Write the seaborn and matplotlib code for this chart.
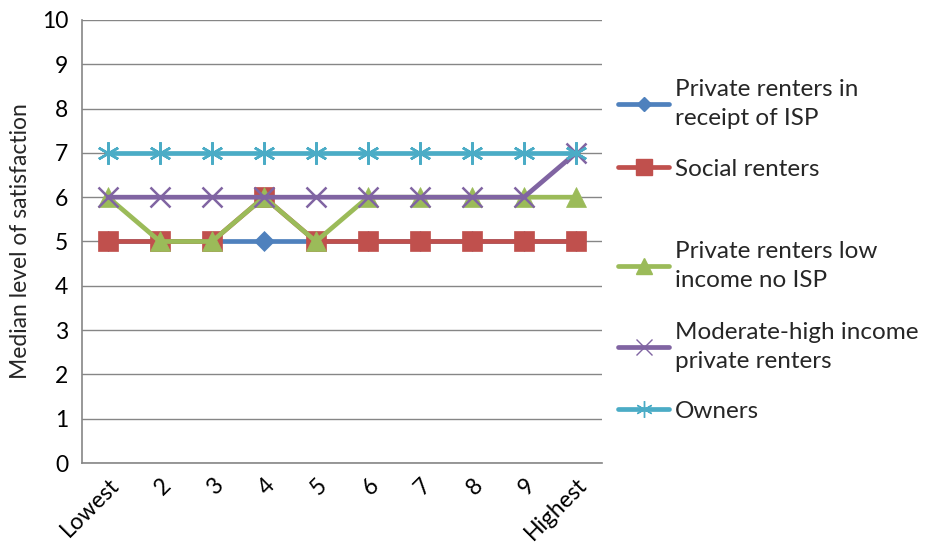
import matplotlib
matplotlib.use("Agg")
import matplotlib.pyplot as plt
from matplotlib.lines import Line2D
import seaborn as sns
import pandas as pd
import numpy as np

# Income decile categories along the x axis
categories = ["Lowest", "2", "3", "4", "5", "6", "7", "8", "9", "Highest"]

# Median satisfaction by tenure group
private_isp = [5, 5, 5, 5, 5, 5, 5, 5, 5, 5]
social_renters = [5, 5, 5, 6, 5, 5, 5, 5, 5, 5]
private_low_no_isp = [6, 5, 5, 6, 5, 6, 6, 6, 6, 6]
moderate_high = [6, 6, 6, 6, 6, 6, 6, 6, 6, 7]
owners = [7, 7, 7, 7, 7, 7, 7, 7, 7, 7]

series_names = [
    "Private renters in\nreceipt of ISP",
    "Social renters",
    "Private renters low\nincome no ISP",
    "Moderate-high income\nprivate renters",
    "Owners",
]
series_values = [private_isp, social_renters, private_low_no_isp, moderate_high, owners]
colors = ["#4F81BD", "#C0504D", "#9BBB59", "#8064A2", "#4BACC6"]
markers = ["D", "s", "^", "x", (6, 2, 0)]
marker_sizes = [10, 15, 15, 15, 16]

sns.set_theme(style="white")
plt.rcParams["font.family"] = ["Lato", "DejaVu Sans"]

fig = plt.figure(figsize=(9.28, 5.54), dpi=100)
ax = fig.add_axes([82 / 928, 1 - 463 / 554, 520 / 928, 443 / 554])

positions = np.arange(len(categories))
handles = []
for name, vals, col, mk, ms in zip(series_names, series_values, colors, markers, marker_sizes):
    df = pd.DataFrame({"pos": positions, "value": vals})
    sns.lineplot(data=df, x="pos", y="value", ax=ax, color=col, linewidth=3.4,
                 marker=mk, markersize=ms, markeredgecolor=col,
                 markeredgewidth=1.8 if mk in ("x", (6, 2, 0)) else 0.5,
                 legend=False)
    handles.append(ax.lines[-1])

ax.set_xlim(-0.5, 9.5)
ax.set_ylim(0, 10)
ax.set_yticks(range(0, 11))
ax.set_xticks(positions)
ax.set_xticklabels(categories, rotation=45, ha="right", rotation_mode="anchor")
ax.tick_params(axis="both", labelsize=16.5, colors="#000000", length=0)
ax.tick_params(axis="x", pad=8)
ax.tick_params(axis="y", pad=10)
ax.set_xlabel("")
ax.set_ylabel("Median level of satisfaction", fontsize=16.5, labelpad=8)

ax.grid(axis="y", color="#868686", linewidth=1)
ax.grid(axis="x", visible=False)
for side in ("top", "right"):
    ax.spines[side].set_visible(False)
for side in ("left", "bottom"):
    ax.spines[side].set_color("#868686")
    ax.spines[side].set_linewidth(1.2)

# One legend entry per series, stacked on the right
legend_y = [104, 169, 266, 347, 411]
for h, name, y in zip(handles, series_names, legend_y):
    proxy = Line2D([], [], color=h.get_color(), linewidth=3.4, marker=h.get_marker(),
                   markersize=h.get_markersize() * 0.75, markeredgecolor=h.get_color(),
                   markeredgewidth=1.0)
    leg = fig.legend([proxy], [name], loc="center left",
                     bbox_to_anchor=(618 / 928, 1 - y / 554), frameon=False,
                     fontsize=17.5, handlelength=2.1, handletextpad=0.25,
                     borderpad=0, borderaxespad=0)
    for t in leg.get_texts():
        t.set_linespacing(1.45)

fig.savefig("out.png", dpi=100)
